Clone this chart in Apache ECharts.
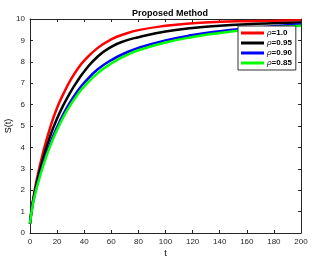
<!DOCTYPE html>
<html><head><meta charset="utf-8">
<script src="https://cdn.jsdelivr.net/npm/echarts@6/dist/echarts.min.js"></script>
<style>html,body{margin:0;padding:0;background:#fff}#c{width:313px;height:261px}</style>
</head><body><div id="c"></div>
<script>
const tValues = [0,2,5,10,15,20,25,30,35,40,50,60,70,80,100,120,140,160,180,200];
const seriesNames = ['ρ=1.0','ρ=0.95','ρ=0.90','ρ=0.85'];
const rho100 = [0.44,1.45,2.5,3.85,4.95,5.85,6.55,7.15,7.65,8.05,8.65,9.05,9.3,9.48,9.68,9.8,9.87,9.9,9.92,9.94];
const rho095 = [0.44,1.4,2.35,3.55,4.55,5.35,6.02,6.6,7.1,7.55,8.25,8.7,8.98,9.15,9.42,9.58,9.68,9.75,9.8,9.84];
const rho090 = [0.44,1.35,2.2,3.3,4.2,4.95,5.6,6.15,6.62,7.02,7.65,8.08,8.4,8.65,9.0,9.25,9.43,9.56,9.66,9.74];
const rho085 = [0.44,1.3,2.12,3.2,4.08,4.82,5.46,6.0,6.46,6.85,7.47,7.92,8.27,8.54,8.9,9.16,9.35,9.5,9.61,9.69];
const xTicks = {min:0,max:200,interval:20};
const yTicks = {min:0,max:10,interval:1};
const colors = ['#ff0000','#000000','#0000ff','#00ff00'];
const allData = [rho100,rho095,rho090,rho085];

const axColor = '#262626';
const chart = echarts.init(document.getElementById('c'));
const baseAxis = {
  axisLine:{show:true,onZero:false,lineStyle:{color:axColor,width:1}},
  axisTick:{show:true,inside:true,length:3,lineStyle:{color:axColor}},
  splitLine:{show:false}
};
chart.setOption({
  animation:false,
  backgroundColor:'#fff',
  title:{text:'Proposed Method',left:165,top:4,textAlign:'center',
    textStyle:{fontFamily:'Liberation Sans',fontSize:9,fontWeight:'bold',color:'#000'}},
  grid:{left:30,right:12,top:19,bottom:28,containLabel:false,outerBoundsMode:'none'},
  xAxis:[
    Object.assign({type:'value',position:'bottom',min:xTicks.min,max:xTicks.max,interval:xTicks.interval,
      name:'t',nameLocation:'middle',nameGap:16,nameMoveOverlap:false,
      nameTextStyle:{fontFamily:'Liberation Sans',fontSize:9,color:'#000'},
      axisLabel:{fontFamily:'Liberation Sans',fontSize:8,color:axColor,margin:5}},baseAxis),
    Object.assign({type:'value',position:'top',min:xTicks.min,max:xTicks.max,interval:xTicks.interval,
      axisLabel:{show:false}},baseAxis)
  ],
  yAxis:[
    Object.assign({type:'value',position:'left',min:yTicks.min,max:yTicks.max,interval:yTicks.interval,
      name:'S(t)',nameLocation:'middle',nameGap:17,nameRotate:90,nameMoveOverlap:false,
      nameTextStyle:{fontFamily:'Liberation Sans',fontSize:9,color:'#000'},
      axisLabel:{fontFamily:'Liberation Sans',fontSize:8,color:axColor,margin:5}},baseAxis),
    Object.assign({type:'value',position:'right',min:yTicks.min,max:yTicks.max,interval:yTicks.interval,
      axisLabel:{show:false}},baseAxis)
  ],
  legend:{
    left:238,top:26,orient:'vertical',
    data:seriesNames,
    icon:'rect',itemWidth:23,itemHeight:3,itemGap:0,
    padding:[2,4,2,3],
    borderColor:'#333',borderWidth:1,backgroundColor:'#fff',
    formatter:function(n){return '{i|ρ}{b|'+n.slice(1)+'}';},
    textStyle:{fontFamily:'Liberation Sans',fontSize:8,color:'#000',lineHeight:10,padding:[0,0,0,-2],
      rich:{i:{fontStyle:'italic',fontFamily:'Liberation Sans',fontSize:8,lineHeight:10},
            b:{fontWeight:'bold',fontFamily:'Liberation Sans',fontSize:8,lineHeight:10}}}
  },
  series: seriesNames.map(function(name,k){
    return {name:name,type:'line',smooth:true,showSymbol:false,symbol:'none',
      color:colors[k],
      lineStyle:{color:colors[k],width:2.5},
      data:tValues.map(function(t,i){return [t,allData[k][i]];})};
  })
});
</script></body></html>
